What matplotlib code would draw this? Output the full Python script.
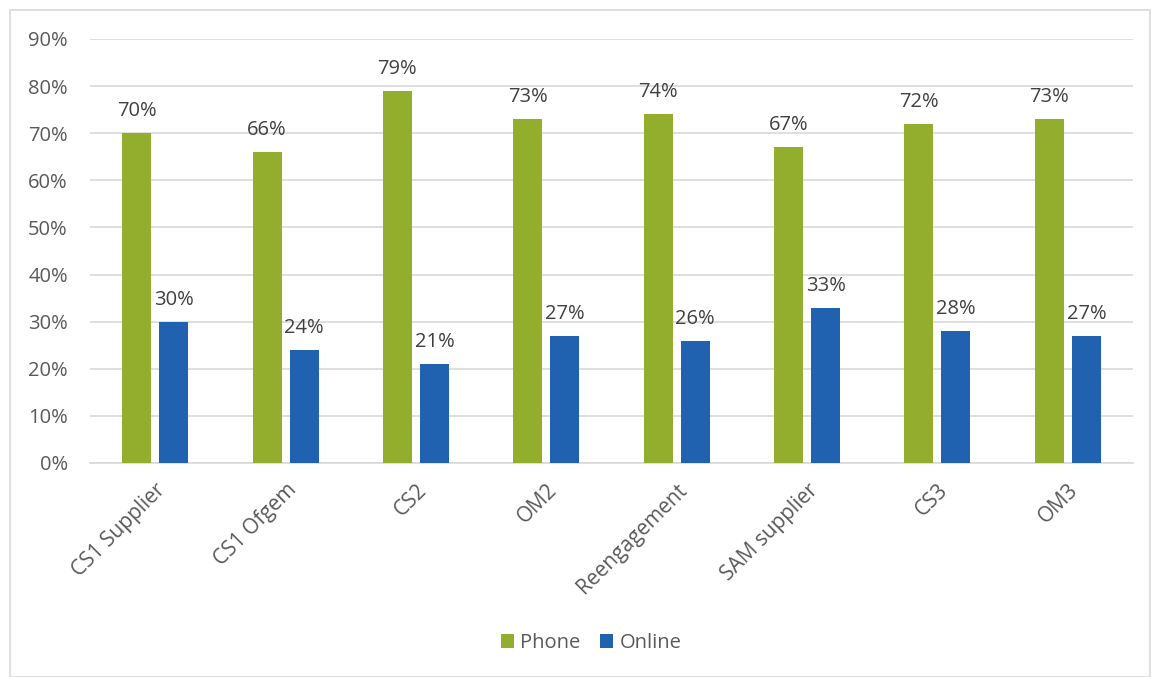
import matplotlib
matplotlib.use("Agg")
import matplotlib.pyplot as plt
from matplotlib.patches import Rectangle
import numpy as np

categories = ["CS1 Supplier", "CS1 Ofgem", "CS2", "OM2", "Reengagement", "SAM supplier", "CS3", "OM3"]
phone = [70, 66, 79, 73, 74, 67, 72, 73]
online = [30, 24, 21, 27, 26, 33, 28, 27]
yticks = [0, 10, 20, 30, 40, 50, 60, 70, 80, 90]

plt.rcParams['font.family'] = ['Open Sans', 'DejaVu Sans']

W, H = 1153, 677
fig = plt.figure(figsize=(W/100, H/100), dpi=100)
ax = fig.add_axes([90/W, 1-463/H, (1133-90)/W, (463-39)/H])

x = np.arange(len(categories))
bw = 0.223
off = 0.142
green = "#93AE2D"
blue = "#2062AF"
fs = 14.5
b1 = ax.bar(x - off, phone, bw, color=green, label="Phone", zorder=3)
b2 = ax.bar(x + off, online, bw, color=blue, label="Online", zorder=3)

for xi, v in zip(x - off, phone):
    ax.text(xi, v + 3.6, f"{v}%", ha="center", va="baseline", fontsize=fs, color="#404040")
for xi, v in zip(x + off, online):
    ax.text(xi, v + 3.6, f"{v}%", ha="center", va="baseline", fontsize=fs, color="#404040")

ax.set_xlim(-0.5, len(categories) - 0.5)
ax.set_ylim(0, 90)
ax.set_yticks(yticks)
ax.set_yticklabels([f"{t}%" for t in yticks], fontsize=fs, color="#595959")
ax.set_xticks(x)
ax.set_xticklabels(categories, rotation=45, ha="right", rotation_mode="anchor", fontsize=15, color="#595959")
ax.tick_params(axis="y", length=0, pad=16)
ax.tick_params(axis="x", length=0, pad=12)
ax.grid(axis="y", color="#D9D9D9", linewidth=1.2, zorder=0)
for s in ["top", "right", "left"]:
    ax.spines[s].set_visible(False)
ax.spines["bottom"].set_color("#D9D9D9")
ax.spines["bottom"].set_linewidth(1.2)

fig.legend(handles=[b1, b2], loc="center", bbox_to_anchor=(591/W, 1-643/H), ncol=2,
           frameon=False, fontsize=fs, handlelength=0.65, handleheight=0.65,
           handletextpad=0.3, columnspacing=1.0, labelcolor="#595959")

fig.patches.append(Rectangle((10/W, 0), (1150-10)/W, 1-10/H, transform=fig.transFigure,
                             fill=False, edgecolor="#D9D9D9", linewidth=1.2))

fig.savefig("out.png", dpi=100, facecolor="white")
